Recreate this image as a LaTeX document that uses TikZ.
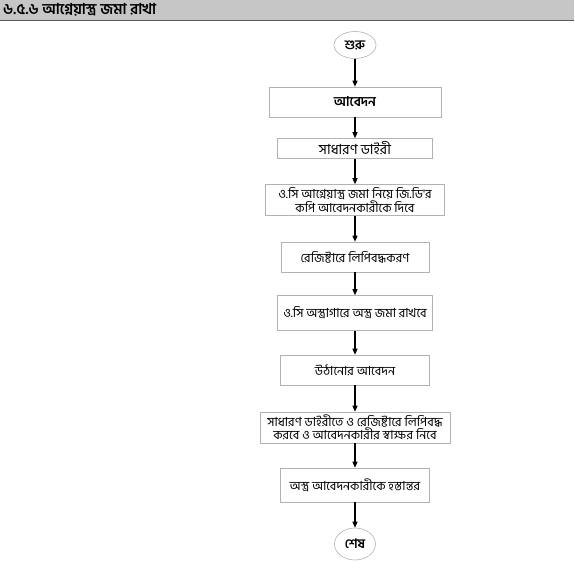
\documentclass[tikz,border=0pt]{standalone}
\usepackage{fontspec}
\newfontfamily\bn[Script=Bengali]{Hind Siliguri}
\usetikzlibrary{arrows.meta,shapes.geometric}
\begin{document}
\begin{tikzpicture}[x=1pt,y=-1pt,
  box/.style={draw=gray!60,line width=0.6pt,fill=white,align=center,font=\bn\fontsize{12.5}{12}\selectfont,inner sep=1pt},
  oval/.style={ellipse,draw=gray!60,line width=0.6pt,fill=white,inner sep=0pt,font=\bn\bfseries\fontsize{13}{13}\selectfont},
  arr/.style={line width=1.2pt,-{Triangle[length=6pt,width=5pt]}}]
\useasboundingbox (0,0) rectangle (574,576);
\fill[gray!45] (0,0) rectangle (574,20);
\draw[gray!70!black,line width=1pt] (0,20.5) -- (574,20.5);
\node[anchor=west,font=\bn\bfseries\fontsize{15}{15}\selectfont,inner sep=0pt] (title) at (3,10) {৬.৫.৬ আগ্নেয়াস্ত্র জমা রাখা};
\node[oval,minimum width=42,minimum height=27] (start) at (355,45) {শুরু};
\node[box,minimum width=172,minimum height=30,font=\bn\bfseries\fontsize{13.5}{13}\selectfont] (b1) at (355,102) {আবেদন};
\node[box,minimum width=155,minimum height=20,font=\bn\fontsize{14}{13}\selectfont] (b2) at (355,148.5) {সাধারণ ডাইরী};
\node[box,minimum width=179,minimum height=31] (b3) at (355,200) {ও.সি আগ্নেয়াস্ত্র জমা নিয়ে জি.ডি'র\\কপি আবেদনকারীকে দিবে};
\node[box,minimum width=148,minimum height=30] (b4) at (355,257) {রেজিষ্টারে লিপিবদ্ধকরণ};
\node[box,minimum width=155,minimum height=35] (b5) at (355,313) {ও.সি অস্ত্রাগারে অস্ত্র জমা রাখবে};
\node[box,minimum width=149,minimum height=30] (b6) at (355,370) {উঠানোর আবেদন};
\node[box,minimum width=190,minimum height=31] (b7) at (355,427.5) {সাধারণ ডাইরীতে ও রেজিষ্টারে লিপিবদ্ধ\\করবে ও আবেদনকারীর স্বাক্ষর নিবে};
\node[box,minimum width=149,minimum height=34] (b8) at (355,485) {অস্ত্র আবেদনকারীকে হস্তান্তর};
\node[oval,minimum width=41,minimum height=32] (end) at (355,544) {শেষ};
\draw[arr] (start) -- (b1);
\draw[arr] (b1) -- (b2);
\draw[arr] (b2) -- (b3);
\draw[arr] (b3) -- (b4);
\draw[arr] (b4) -- (b5);
\draw[arr] (b5) -- (b6);
\draw[arr] (b6) -- (b7);
\draw[arr] (b7) -- (b8);
\draw[arr] (b8) -- (end);
\end{tikzpicture}
\end{document}
